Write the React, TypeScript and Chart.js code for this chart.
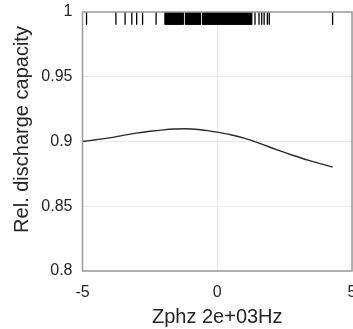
import React, { useEffect, useRef } from "react";
import { Chart, registerables } from "chart.js";

Chart.register(...registerables);

const curveX = [-5, -4.5, -4, -3.5, -3, -2.5, -2, -1.6, -1.2, -0.7, -0.3, 0, 0.5, 1, 1.6, 2.2, 2.8, 3.4, 3.9, 4.28];
const curveY = [0.9, 0.9014, 0.9028, 0.9047, 0.9065, 0.9079, 0.909, 0.9096, 0.9099, 0.9093, 0.9082, 0.9072, 0.9052, 0.9026, 0.8984, 0.8937, 0.8894, 0.8854, 0.8825, 0.8802];

const rugX = [
  -4.85, -3.76, -3.42, -3.17, -2.99, -2.77, -2.27,
  -1.94, -1.92, -1.9, -1.88, -1.86, -1.84, -1.82, -1.8, -1.78, -1.76, -1.74, -1.72, -1.7, -1.68, -1.66,
  -1.64, -1.62, -1.6, -1.58, -1.56, -1.54, -1.52, -1.5, -1.48, -1.46, -1.44, -1.42, -1.4, -1.38, -1.36,
  -1.34, -1.32, -1.3, -1.28, -1.26, -1.18, -1.16, -1.14, -1.12, -1.1, -1.08, -1.06, -1.04, -1.02, -1.0,
  -0.98, -0.96, -0.94, -0.92, -0.9, -0.88, -0.86, -0.84, -0.82, -0.8, -0.78, -0.76, -0.74, -0.72, -0.7,
  -0.68, -0.66, -0.64, -0.62, -0.54, -0.52, -0.5, -0.48, -0.46, -0.44, -0.42, -0.4, -0.38, -0.36, -0.34,
  -0.32, -0.3, -0.28, -0.26, -0.24, -0.22, -0.2, -0.18, -0.16, -0.14, -0.12, -0.1, -0.08, -0.06, -0.04,
  -0.02, 0.0, 0.02, 0.04, 0.06, 0.08, 0.1, 0.12, 0.14, 0.16, 0.18, 0.2, 0.22, 0.24, 0.26, 0.28, 0.3,
  0.32, 0.34, 0.36, 0.38, 0.4, 0.42, 0.44, 0.46, 0.48, 0.5, 0.52, 0.54, 0.56, 0.58, 0.6, 0.62, 0.64,
  0.66, 0.68, 0.7, 0.72, 0.74, 0.76, 0.78, 0.8, 0.82, 0.84, 0.86, 0.88, 0.9, 0.92, 0.94, 0.96, 0.98,
  1.0, 1.02, 1.04, 1.06, 1.08, 1.1, 1.12, 1.14, 1.16, 1.18, 1.2, 1.22, 1.24, 1.26, 1.28,
  1.4, 1.55, 1.65, 1.74, 1.86, 1.93, 4.28,
];

const xTicks = [-5, 0, 5];
const yTicks = [0.8, 0.85, 0.9, 0.95, 1];
const xTitle = "Zphz 2e+03Hz";
const yTitle = "Rel. discharge capacity";

export default function App() {
  const ref = useRef<HTMLCanvasElement | null>(null);
  useEffect(() => {
    if (!ref.current) return;
    const font = "'Liberation Sans', Arial, sans-serif";
    const boxPlugin = {
      id: "box",
      afterDraw(chart: any) {
        const { ctx, chartArea: a } = chart;
        ctx.save();
        ctx.strokeStyle = "#9a9a9a";
        ctx.lineWidth = 1.5;
        ctx.strokeRect(a.left, a.top, a.right - a.left, a.bottom - a.top);
        // y-axis title, placed slightly above the plot's middle as in the reference
        ctx.fillStyle = "#262626";
        ctx.font = `20px ${font}`;
        ctx.textAlign = "center";
        ctx.textBaseline = "middle";
        ctx.translate(22, (a.top + a.bottom) / 2 - 12);
        ctx.rotate(-Math.PI / 2);
        ctx.fillText(yTitle, 0, 0);
        ctx.restore();
      },
    };
    const chart = new Chart(ref.current, {
      type: "scatter",
      data: {
        datasets: [
          {
            data: curveX.map((x, i) => ({ x, y: curveY[i] })),
            showLine: true,
            borderColor: "#2b2b2b",
            borderWidth: 1.4,
            pointRadius: 0,
            tension: 0.4,
            cubicInterpolationMode: "monotone",
          },
          {
            data: rugX.map((x) => ({ x, y: 0.9951 })),
            showLine: false,
            pointStyle: "line",
            rotation: 90,
            radius: 6.4,
            pointRadius: 6.4,
            borderColor: "#000",
            borderWidth: 1.3,
            backgroundColor: "#000",
          },
        ],
      },
      options: {
        animation: false,
        responsive: false,
        layout: { autoPadding: false, padding: { top: 12, right: 1, left: 0, bottom: 0 } },
        plugins: { legend: { display: false }, tooltip: { enabled: false } },
        scales: {
          x: {
            type: "linear",
            min: -5,
            max: 5,
            afterBuildTicks: (s: any) => {
              s.ticks = xTicks.map((v) => ({ value: v }));
            },
            afterFit: (s: any) => {
              s.height = 58;
              s.paddingLeft = 0;
              s.paddingRight = 0;
            },
            border: { display: false },
            grid: { color: "#ebebeb", drawTicks: false, lineWidth: 1 },
            ticks: {
              padding: 12,
              color: "#262626",
              font: { family: font, size: 16 },
              maxRotation: 0,
            },
            title: {
              display: true,
              text: xTitle,
              color: "#262626",
              font: { family: font, size: 20 },
              padding: { top: -3, bottom: 0 },
            },
          },
          y: {
            type: "linear",
            min: 0.8,
            max: 1,
            afterBuildTicks: (s: any) => {
              s.ticks = yTicks.map((v) => ({ value: v }));
            },
            afterFit: (s: any) => {
              s.width = 82.5;
              s.paddingTop = 0;
              s.paddingBottom = 0;
            },
            border: { display: false },
            grid: { color: "#ebebeb", drawTicks: false, lineWidth: 1 },
            ticks: {
              padding: 10,
              color: "#262626",
              font: { family: font, size: 16 },
              callback: (v: any) => String(Number(v)),
            },
            title: { display: false },
          },
        },
      },
      plugins: [boxPlugin],
    } as any);
    return () => chart.destroy();
  }, []);
  return (
    <div style={{ position: "fixed", left: 0, top: 0, width: 353, height: 329, background: "#fff" }}>
      <canvas ref={ref} width={353} height={329} style={{ width: 353, height: 329 }} />
    </div>
  );
}
